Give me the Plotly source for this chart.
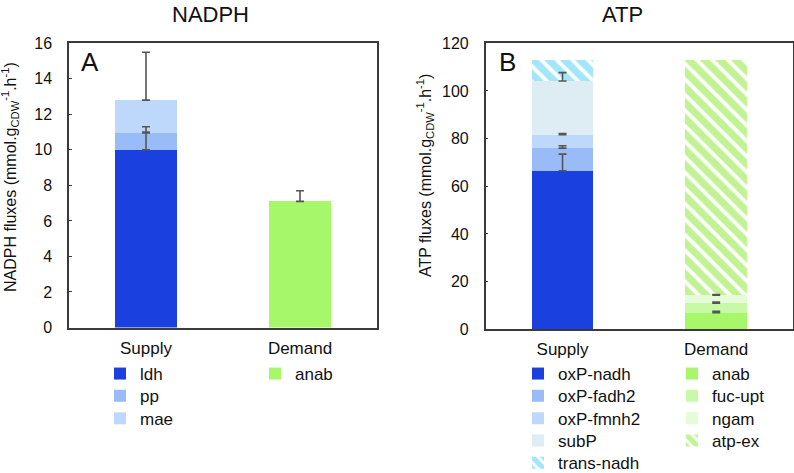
import numpy as np
import plotly.graph_objects as go

# ---------------- data ----------------
categories = ["Supply", "Demand"]

# NADPH (panel A)
nadph_supply_names = ["ldh", "pp", "mae"]
nadph_supply_vals = [10.0, 0.95, 1.85]
nadph_supply_err = [1.0, 0.35, 2.7]
nadph_demand_names = ["anab"]
nadph_demand_vals = [7.1]
nadph_demand_err = [0.6]

# ATP (panel B)
atp_supply_names = ["oxP-nadh", "oxP-fadh2", "oxP-fmnh2", "subP", "trans-nadh"]
atp_supply_vals = [66.5, 9.5, 5.6, 22.6, 8.8]
atp_supply_err = [7.0, 1.0, 0.5, 3.5, 0.0]
atp_demand_names = ["anab", "fuc-upt", "ngam", "atp-ex"]
atp_demand_vals = [7.0, 3.9, 3.45, 98.65]
atp_demand_err = [0.6, 0.5, 0.2, 0.0]

# ---------------- styles ----------------
nadph_supply_colors = ["#1b40e0", "#99bbf8", "#bed8fb"]
nadph_demand_colors = ["#a6f76a"]
atp_supply_colors = ["#1b40e0", "#99bbf8", "#bed8fb", "#deecf4", "#45cdf4"]
atp_supply_hatch = [False, False, False, False, True]
atp_demand_colors = ["#a6f76a", "#c8f9a6", "#e6fcd8", "#84e82a"]
atp_demand_hatch = [False, False, False, True]

ERR_COLOR = "#555555"
LINE_COLOR = "#3a3a3a"
FONT = "Liberation Sans, Arial, sans-serif"
W, H = 794, 473
LEG_FONT = 17
ROW0, ROWSTEP = 376.0, 22.3      # legend row centres (px from top)


def px_x(p):
    return p / W


def px_y(p):
    return 1 - p / H


fig = go.Figure()
legend_layout = {}
legend_count = [0]


def new_legend(left_px, row):
    legend_count[0] += 1
    k = legend_count[0]
    lid = "legend" if k == 1 else f"legend{k}"
    legend_layout[lid] = dict(
        orientation="v", xanchor="left", yanchor="top",
        xref="container", yref="container",
        x=px_x(left_px), y=px_y(ROW0 + ROWSTEP * row - 20),
        font=dict(size=LEG_FONT, color="#111", family=FONT),
        bgcolor="rgba(0,0,0,0)", borderwidth=0)
    return lid


def add_bar(name, cat, val, color, hatch, xa, ya, legend):
    marker = dict(color=color, line=dict(width=0))
    if hatch:
        marker["pattern"] = dict(shape="\\", fgcolor=color, bgcolor="white",
                                 size=11, solidity=0.65)
    fig.add_trace(go.Bar(name=name, x=[cat], y=[val], marker=marker,
                         width=0.4, xaxis=xa, yaxis=ya, legend=legend))


def add_errors(cat, vals, errs, xa, ya):
    tops = np.cumsum(vals)
    keep = [i for i, e in enumerate(errs) if e > 0]
    fig.add_trace(go.Scatter(
        x=[cat] * len(keep), y=[tops[i] for i in keep], mode="markers",
        marker=dict(size=1, opacity=0), showlegend=False, hoverinfo="skip",
        error_y=dict(type="data", array=[errs[i] for i in keep],
                     arrayminus=[0] * len(keep), symmetric=False,
                     color=ERR_COLOR, thickness=1.6, width=4),
        xaxis=xa, yaxis=ya))


for i, (n, v, c) in enumerate(zip(nadph_supply_names, nadph_supply_vals, nadph_supply_colors)):
    add_bar(n, categories[0], v, c, False, "x", "y", new_legend(100, i))
for i, (n, v, c) in enumerate(zip(nadph_demand_names, nadph_demand_vals, nadph_demand_colors)):
    add_bar(n, categories[1], v, c, False, "x", "y", new_legend(255, i))
for i, (n, v, c, h) in enumerate(zip(atp_supply_names, atp_supply_vals, atp_supply_colors, atp_supply_hatch)):
    add_bar(n, categories[0], v, c, h, "x2", "y2", new_legend(518, i))
for i, (n, v, c, h) in enumerate(zip(atp_demand_names, atp_demand_vals, atp_demand_colors, atp_demand_hatch)):
    add_bar(n, categories[1], v, c, h, "x2", "y2", new_legend(672, i))

add_errors(categories[0], nadph_supply_vals, nadph_supply_err, "x", "y")
add_errors(categories[1], nadph_demand_vals, nadph_demand_err, "x", "y")
add_errors(categories[0], atp_supply_vals, atp_supply_err, "x2", "y2")
add_errors(categories[1], atp_demand_vals, atp_demand_err, "x2", "y2")

axis_common = dict(showline=True, mirror=True, linecolor=LINE_COLOR, linewidth=1.5,
                   showgrid=False, zeroline=False)

xaxis_common = dict(axis_common, type="category", categoryorder="array",
                    categoryarray=categories, range=[-0.5, 1.5], ticks="",
                    tickfont=dict(size=17, color="#111"), ticklabelstandoff=4)
yaxis_common = dict(axis_common, ticks="inside", ticklen=3, tickcolor=LINE_COLOR,
                    tickfont=dict(size=16, color="#111"), ticklabelstandoff=12)

fig.update_layout(
    width=W, height=H,
    margin=dict(l=0, r=0, t=0, b=0, autoexpand=False),
    paper_bgcolor="white", plot_bgcolor="white",
    font=dict(family=FONT, color="#111"),
    barmode="stack",
    xaxis=dict(xaxis_common, domain=[px_x(69), px_x(377)], anchor="y"),
    yaxis=dict(yaxis_common, domain=[px_y(327.5), px_y(43.3)], anchor="x",
               range=[0, 16], dtick=2),
    xaxis2=dict(xaxis_common, domain=[px_x(485.7), px_x(793)], anchor="y2"),
    yaxis2=dict(yaxis_common, domain=[px_y(329.3), px_y(43.3)], anchor="x2",
                range=[0, 120], dtick=20),
    showlegend=True,
    **legend_layout,
)

annotations = [
    dict(text="NADPH", x=px_x(210), y=1, yanchor="top", font=dict(size=22)),
    dict(text="ATP", x=px_x(622), y=1, yanchor="top", font=dict(size=22)),
    dict(text="A", x=px_x(90), y=px_y(62), font=dict(size=26)),
    dict(text="B", x=px_x(507), y=px_y(62), font=dict(size=26)),
    dict(text="NADPH fluxes (mmol.g<sub>CDW</sub><sup>-1</sup>.h<sup>-1</sup>)",
         x=px_x(10), y=px_y(177), textangle=-90, font=dict(size=16)),
    dict(text="ATP fluxes (mmol.g<sub>CDW</sub><sup>-1</sup>.h<sup>-1</sup>)",
         x=px_x(425), y=px_y(176), textangle=-90, font=dict(size=16)),
]
for a in annotations:
    a.setdefault("yanchor", "middle")
    a.update(xref="paper", yref="paper", showarrow=False, xanchor="center")
    a["font"].update(color="#111", family=FONT)
fig.update_layout(annotations=annotations)

fig.write_html("out.html",
               config={"displayModeBar": False},
               post_script="document.body.style.margin='0px';"
                           "document.body.style.overflow='hidden';")
